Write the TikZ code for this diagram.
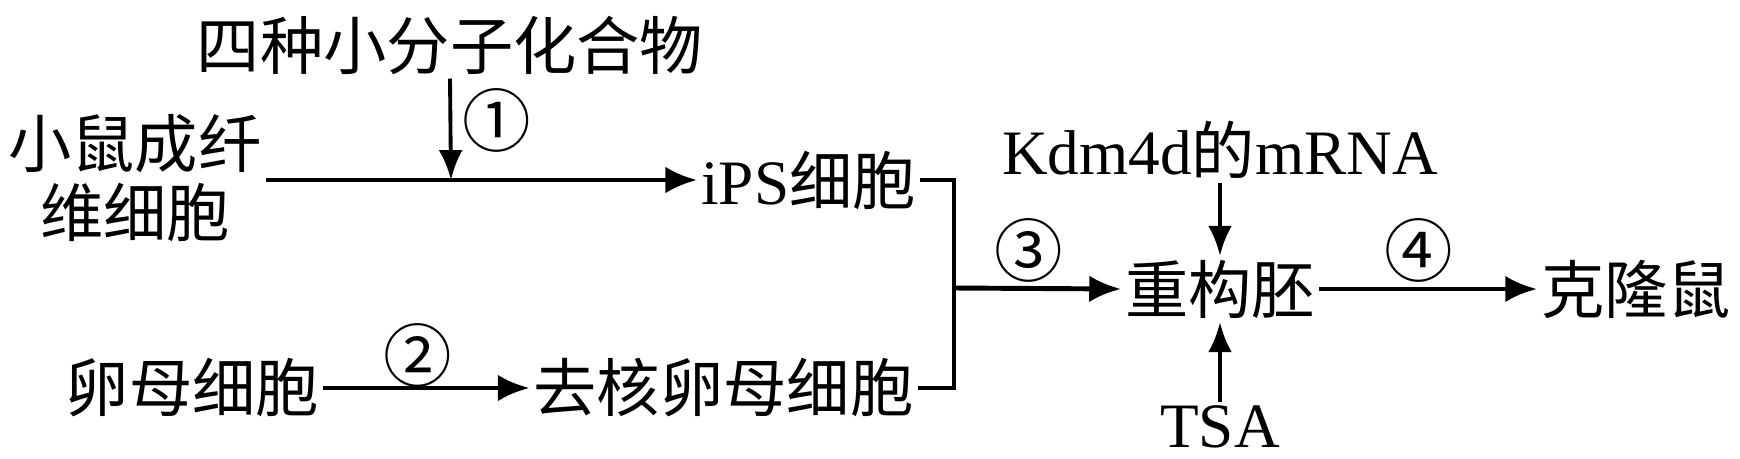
\documentclass[tikz,border=0pt]{standalone}
\usepackage{fontspec}
\setmainfont{Liberation Serif}
\newfontfamily\zh{Noto Sans CJK SC}
\usetikzlibrary{positioning}
\usetikzlibrary{arrows.meta}
\tikzset{
    txtnode/.style = {inner sep=1pt, font=\fontsize{18}{19.6}\selectfont\zh},
    latnode/.style = {inner sep=1pt, font=\fontsize{18}{19.6}\selectfont},
    numnode/.style = {inner sep=0pt, font=\fontsize{19.5}{19.5}\selectfont\zh},
    edgen/.style = {-{Latex[length=9pt,width=7.6pt]},line width=1.4pt},
    edgev/.style = {-{Latex[length=8.5pt,width=6.8pt]},line width=1.1pt},
    linen/.style = {line width=1.4pt}
}
\begin{document}
\begin{tikzpicture}
  \useasboundingbox (0,0) rectangle (17.4,4.58);

  \node[txtnode] (mol) at (4.50,4.13) {四种小分子化合物};
  \node[txtnode, align=center] (fib) at (1.35,2.80) {小鼠成纤\\维细胞};
  \node[txtnode] (ips) at (8.085,2.78) {{\rmfamily iPS}细胞};
  \node[txtnode] (egg) at (1.925,0.70) {卵母细胞};
  \node[txtnode] (enuc) at (7.235,0.70) {去核卵母细胞};
  \node[txtnode] (emb) at (12.20,1.69) {重构胚};
  \node[txtnode] (kdm) at (12.20,3.08) {{\rmfamily Kdm4d}的{\rmfamily mRNA}};
  \node[latnode] (tsa) at (12.20,0.31) {TSA};
  \node[txtnode] (mouse) at (16.36,1.69) {克隆鼠};

  \node[numnode] (n1) at (4.97,3.38) {①};
  \node[numnode] (n2) at (4.18,1.03) {②};
  \node[numnode] (n3) at (10.29,2.08) {③};
  \node[numnode] (n4) at (14.19,2.08) {④};

  \coordinate (j1) at (4.51,2.78);
  \coordinate (j3) at (9.54,1.70);

  \draw[edgen] (fib.east |- ips.west) -- (ips.west);
  \draw[edgev] (mol.south) -- (j1);
  \draw[linen] (ips.east) -| (j3) |- (enuc.east);
  \draw[edgen] (j3) -- (emb.west);
  \draw[edgen] (egg.east) -- (enuc.west);
  \draw[edgev] (kdm.south) -- (emb.north);
  \draw[edgev] (tsa.north) -- (emb.south);
  \draw[edgen] (emb.east) -- (mouse.west);
\end{tikzpicture}
\end{document}
